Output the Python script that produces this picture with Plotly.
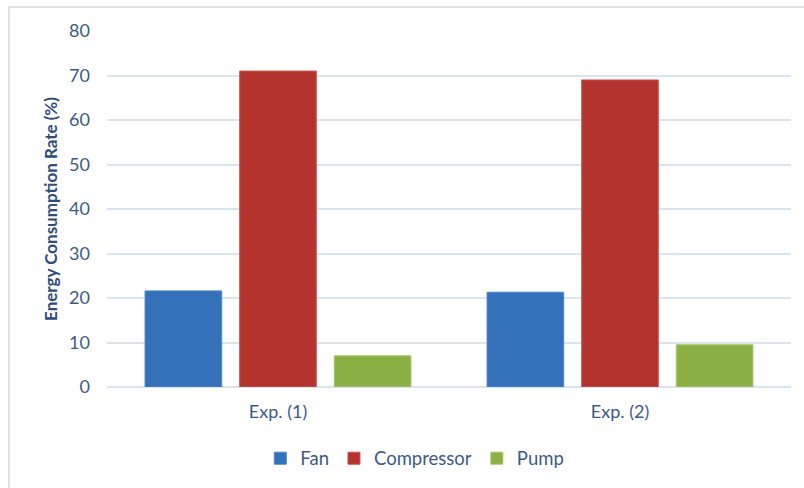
import plotly.graph_objects as go

experiments = ["Exp. (1)", "Exp. (2)"]
fan = [21.6, 21.3]
compressor = [71.0, 69.0]
pump = [7.0, 9.5]
y_ticks = [0, 10, 20, 30, 40, 50, 60, 70, 80]

series = [
    ("Fan", fan, "#3471b8", "#4a86d0"),
    ("Compressor", compressor, "#b3342f", "#cf5450"),
    ("Pump", pump, "#8bb043", "#a6c865"),
]

text_color = "#3d5a86"
grid_color = "#d9e4f3"

fig = go.Figure()
for name, vals, color, edge in series:
    fig.add_trace(go.Bar(
        x=experiments, y=vals, name=name,
        marker=dict(color=color, line=dict(color=edge, width=1)),
    ))

fig.update_layout(
    width=804, height=488,
    margin=dict(l=107, r=13, t=31, b=101, autoexpand=False),
    paper_bgcolor="white", plot_bgcolor="white",
    barmode="group", bargap=0.17, bargroupgap=0.19,
    font=dict(family="Lato, 'Open Sans', sans-serif", color=text_color, size=18),
    showlegend=True,
    legend=dict(
        orientation="h", x=0.45, xanchor="center", y=-0.148, yanchor="top",
        font=dict(size=18.5, color=text_color), itemwidth=30,
        traceorder="normal",
    ),
    xaxis=dict(
        showgrid=False, showline=False, zeroline=False, automargin=False,
        tickfont=dict(size=18, color=text_color), ticks="",
        ticklabelstandoff=12,
    ),
    yaxis=dict(
        range=[0, 80], tickvals=y_ticks, showgrid=True, gridcolor=grid_color,
        gridwidth=2, zeroline=True, zerolinecolor=grid_color, zerolinewidth=2,
        showline=False, ticks="", ticklabelstandoff=16, automargin=False,
        tickfont=dict(size=18, color=text_color),
        title=dict(text="<b>Energy Consumption Rate (%)</b>", standoff=7,
                   font=dict(size=17, color="#2e4d7b")),
    ),
    shapes=[dict(
        type="rect", xref="paper", yref="paper",
        x0=-0.1433, x1=1.5, y0=-1.0, y1=1.0674,
        line=dict(color=grid_color, width=2), fillcolor="rgba(0,0,0,0)",
        layer="below",
    )],
)

fig.write_html("out.html")
